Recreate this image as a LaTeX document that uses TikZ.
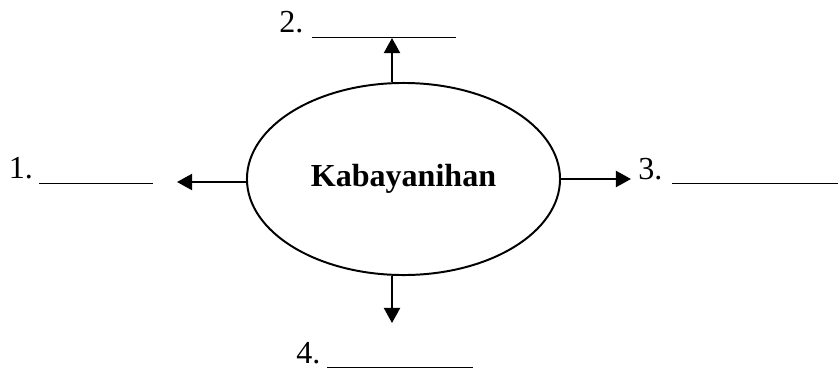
\documentclass[tikz,border=0pt]{standalone}
\usepackage{fontspec}
\setmainfont{Liberation Serif}
\usepackage{tikz}
\usetikzlibrary{
        arrows.meta,
        shapes.geometric
    }

\begin{document}
\begin{tikzpicture}[x=0.025cm, y=-0.025cm,
topicshape/.style={ellipse, draw=black, line width=1.4pt, minimum width=7.825cm, minimum height=4.8cm, inner sep=0pt, font=\fontsize{22.8}{27}\selectfont\bfseries},
blank/.style={anchor=base west, inner sep=0pt, font=\fontsize{22.8}{27}\selectfont},
arrow/.style={line width=1.4pt, -{Triangle[length=0.375cm, width=0.4cm]}},
]
\useasboundingbox (0,0) rectangle (838,369);

\node (topic) [topicshape] at (403.5,179) {Kabayanihan};

\node (blank1) [blank] at (8.5,178) {1.\hspace{0.16cm}\rule[-0.15cm]{2.85cm}{0.7pt}};
\node (blank2) [blank] at (279,32) {2.\hspace{0.225cm}\rule[-0.15cm]{3.6cm}{0.7pt}};
\node (blank3) [blank] at (638,179) {3.\hspace{0.25cm}\rule[-0.13cm]{4.15cm}{0.7pt}};
\node (blank4) [blank] at (296,363) {4.\hspace{0.175cm}\rule[-0.13cm]{3.65cm}{0.7pt}};

\coordinate (tip1) at (177,182);
\coordinate (tip2) at (392,38);
\coordinate (tip3) at (631,179);
\coordinate (tip4) at (392,323);

\draw[arrow] (topic.west |- tip1) -- (tip1);
\draw[arrow] (topic.north -| tip2) -- (tip2);
\draw[arrow] (topic.east) -- (tip3);
\draw[arrow] (topic.south -| tip4) -- (tip4);

\end{tikzpicture}
\end{document}
